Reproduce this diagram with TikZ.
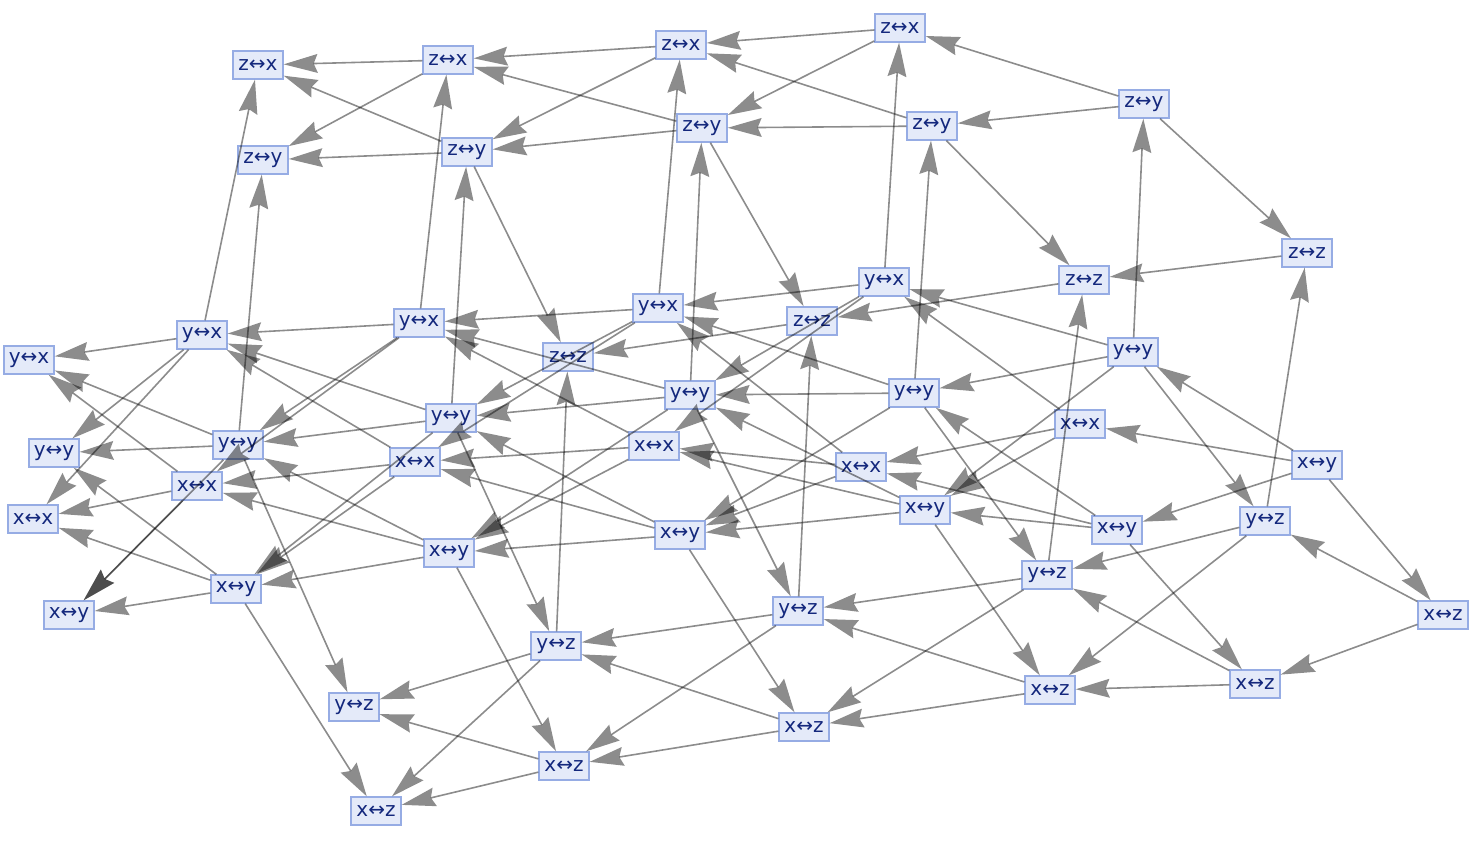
\documentclass[tikz,border=0pt]{standalone}
\usepackage{fontspec}
\setmainfont{DejaVu Sans}
\usetikzlibrary{arrows.meta}

\definecolor{boxfill}{RGB}{228,234,249}
\definecolor{boxline}{RGB}{150,172,228}
\definecolor{boxtext}{RGB}{20,40,125}

\tikzset{
    swap/.style = {draw = boxline, fill = boxfill, text = boxtext, line width = 0.7pt,
        minimum width = 25pt, minimum height = 14pt, inner sep = 0pt,
        font = \fontsize{10}{11}\selectfont},
    edge/.style = {draw = black, opacity = 0.45, line width = 0.8pt,
        -{Stealth[length = 17pt, width = 9.5pt, inset = 2pt, line width = 0pt]}}
}

\begin{document}
\begin{tikzpicture}[x = 0.5pt, y = -0.5pt]
        \useasboundingbox ( 0, 0 ) rectangle ( 1476, 842 );

        % z<->x
        \node [swap] (zx1) at ( 258, 65 ) {z↔x};
        \node [swap] (zx2) at ( 448, 60 ) {z↔x};
        \node [swap] (zx3) at ( 681, 45 ) {z↔x};
        \node [swap] (zx4) at ( 900, 28 ) {z↔x};

        % z<->y
        \node [swap] (zy1) at ( 263, 160 ) {z↔y};
        \node [swap] (zy2) at ( 467, 152 ) {z↔y};
        \node [swap] (zy3) at ( 702, 128 ) {z↔y};
        \node [swap] (zy4) at ( 932, 126 ) {z↔y};
        \node [swap] (zy5) at ( 1144, 104 ) {z↔y};

        % z<->z
        \node [swap] (zz1) at ( 568, 357 ) {z↔z};
        \node [swap] (zz2) at ( 812, 321 ) {z↔z};
        \node [swap] (zz3) at ( 1084, 280 ) {z↔z};
        \node [swap] (zz4) at ( 1307, 253 ) {z↔z};

        % y<->x
        \node [swap] (yx1) at ( 29, 360 ) {y↔x};
        \node [swap] (yx2) at ( 202, 335 ) {y↔x};
        \node [swap] (yx3) at ( 419, 323 ) {y↔x};
        \node [swap] (yx4) at ( 658, 308 ) {y↔x};
        \node [swap] (yx5) at ( 884, 282 ) {y↔x};

        % y<->y
        \node [swap] (yy1) at ( 54, 453 ) {y↔y};
        \node [swap] (yy2) at ( 238, 445 ) {y↔y};
        \node [swap] (yy3) at ( 451, 418 ) {y↔y};
        \node [swap] (yy4) at ( 690, 395 ) {y↔y};
        \node [swap] (yy5) at ( 914, 393 ) {y↔y};
        \node [swap] (yy6) at ( 1133, 352 ) {y↔y};

        % x<->x
        \node [swap] (xx1) at ( 33, 519 ) {x↔x};
        \node [swap] (xx2) at ( 197, 486 ) {x↔x};
        \node [swap] (xx3) at ( 415, 462 ) {x↔x};
        \node [swap] (xx4) at ( 654, 446 ) {x↔x};
        \node [swap] (xx5) at ( 861, 467 ) {x↔x};
        \node [swap] (xx6) at ( 1080, 424 ) {x↔x};

        % x<->y
        \node [swap] (xy1) at ( 69, 615 ) {x↔y};
        \node [swap] (xy2) at ( 236, 589 ) {x↔y};
        \node [swap] (xy3) at ( 449, 553 ) {x↔y};
        \node [swap] (xy4) at ( 680, 535 ) {x↔y};
        \node [swap] (xy5) at ( 925, 510 ) {x↔y};
        \node [swap] (xy6) at ( 1117, 530 ) {x↔y};
        \node [swap] (xy7) at ( 1317, 465 ) {x↔y};

        % y<->z
        \node [swap] (yz1) at ( 354, 707 ) {y↔z};
        \node [swap] (yz2) at ( 556, 646 ) {y↔z};
        \node [swap] (yz3) at ( 798, 611 ) {y↔z};
        \node [swap] (yz4) at ( 1047, 575 ) {y↔z};
        \node [swap] (yz5) at ( 1265, 521 ) {y↔z};

        % x<->z
        \node [swap] (xz1) at ( 376, 811 ) {x↔z};
        \node [swap] (xz2) at ( 564, 766 ) {x↔z};
        \node [swap] (xz3) at ( 804, 727 ) {x↔z};
        \node [swap] (xz4) at ( 1050, 690 ) {x↔z};
        \node [swap] (xz5) at ( 1255, 684 ) {x↔z};
        \node [swap] (xz6) at ( 1443, 615 ) {x↔z};

        % рёбра из z<->x, z<->y, z<->z
        \draw [edge] (zx2) edge (zx1) edge (zy1);
        \draw [edge] (zx3) edge (zx2) edge (zy2);
        \draw [edge] (zx4) edge (zx3) edge (zy3);
        \draw [edge] (zy2) edge (zx1) edge (zy1) edge (zz1);
        \draw [edge] (zy3) edge (zx2) edge (zy2) edge (zz2);
        \draw [edge] (zy4) edge (zx3) edge (zy3) edge (zz3);
        \draw [edge] (zy5) edge (zx4) edge (zy4) edge (zz4);
        \draw [edge] (zz2) edge (zz1);
        \draw [edge] (zz3) edge (zz2);
        \draw [edge] (zz4) edge (zz3);

        % рёбра из y<->x
        \draw [edge] (yx2) edge (zx1) edge (yx1) edge (yy1) edge (xx1);
        \draw [edge] (yx3) edge (zx2) edge (yx2) edge (yy2) edge (xx2);
        \draw [edge] (yx4) edge (zx3) edge (yx3) edge (yy3) edge (xx3);
        \draw [edge] (yx5) edge (zx4) edge (yx4) edge (yy4) edge (xx4);

        % рёбра из y<->y
        \draw [edge] (yy2) edge (zy1) edge (yx1) edge (yy1) edge (xy1) edge (yz1);
        \draw [edge] (yy3) edge (zy2) edge (yx2) edge (yy2) edge (xy2) edge (yz2);
        \draw [edge] (yy4) edge (zy3) edge (yx3) edge (yy3) edge (xy3) edge (yz3);
        \draw [edge] (yy5) edge (zy4) edge (yx4) edge (yy4) edge (xy4) edge (yz4);
        \draw [edge] (yy6) edge (zy5) edge (yx5) edge (yy5) edge (xy5) edge (yz5);

        % рёбра из x<->x
        \draw [edge] (xx2) edge (yx1) edge (xx1) edge (xy1);
        \draw [edge] (xx3) edge (yx2) edge (xx2) edge (xy2);
        \draw [edge] (xx4) edge (yx3) edge (xx3) edge (xy3);
        \draw [edge] (xx5) edge (yx4) edge (xx4) edge (xy4);
        \draw [edge] (xx6) edge (yx5) edge (xx5) edge (xy5);

        % рёбра из x<->y
        \draw [edge] (xy2) edge (yy1) edge (xx1) edge (xy1) edge (xz1);
        \draw [edge] (xy3) edge (yy2) edge (xx2) edge (xy2) edge (xz2);
        \draw [edge] (xy4) edge (yy3) edge (xx3) edge (xy3) edge (xz3);
        \draw [edge] (xy5) edge (yy4) edge (xx4) edge (xy4) edge (xz4);
        \draw [edge] (xy6) edge (yy5) edge (xx5) edge (xy5) edge (xz5);
        \draw [edge] (xy7) edge (yy6) edge (xx6) edge (xy6) edge (xz6);

        % рёбра из y<->z и x<->z
        \draw [edge] (yz2) edge (zz1) edge (yz1) edge (xz1);
        \draw [edge] (yz3) edge (zz2) edge (yz2) edge (xz2);
        \draw [edge] (yz4) edge (zz3) edge (yz3) edge (xz3);
        \draw [edge] (yz5) edge (zz4) edge (yz4) edge (xz4);
        \draw [edge] (xz2) edge (yz1) edge (xz1);
        \draw [edge] (xz3) edge (yz2) edge (xz2);
        \draw [edge] (xz4) edge (yz3) edge (xz3);
        \draw [edge] (xz5) edge (yz4) edge (xz4);
        \draw [edge] (xz6) edge (yz5) edge (xz5);
    \end{tikzpicture}
\end{document}
